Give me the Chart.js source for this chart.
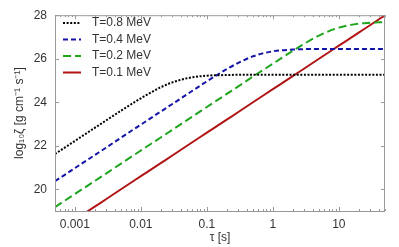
<!DOCTYPE html>
<html>
<head>
<meta charset="utf-8">
<script src="https://cdn.jsdelivr.net/npm/chart.js@4.4.0/dist/chart.umd.min.js"></script>
<style>
  html, body { margin: 0; padding: 0; background: #fff; }
  #wrap { width: 399px; height: 247px; }
</style>
</head>
<body>
<div id="wrap"><canvas id="zetaChart" width="399" height="247"></canvas></div>
<script>
// valores (tau en s, log10 zeta)
const tauValues = [0.0005, 0.001, 0.002, 0.003, 0.005, 0.01, 0.02, 0.03, 0.05, 0.1, 0.2, 0.3, 0.5, 1, 2, 3, 5, 10, 20, 30, 50];
const zetaT08 = [21.62, 22.22, 22.82, 23.17, 23.61, 24.18, 24.69, 24.91, 25.10, 25.22, 25.25, 25.26, 25.26, 25.26, 25.26, 25.26, 25.26, 25.26, 25.26, 25.26, 25.26];
const zetaT04 = [20.37, 20.97, 21.57, 21.92, 22.37, 22.97, 23.57, 23.92, 24.36, 24.96, 25.52, 25.81, 26.11, 26.34, 26.42, 26.44, 26.45, 26.45, 26.45, 26.45, 26.45];
const zetaT02 = [19.18, 19.78, 20.38, 20.73, 21.18, 21.78, 22.38, 22.73, 23.18, 23.78, 24.38, 24.73, 25.18, 25.77, 26.36, 26.69, 27.06, 27.43, 27.61, 27.65, 27.68];
const zetaT01 = [18.0, 18.6, 19.2, 19.55, 20.0, 20.6, 21.2, 21.55, 22.0, 22.6, 23.2, 23.55, 24.0, 24.6, 25.2, 25.55, 26.0, 26.6, 27.2, 27.55, 28.0];
const seriesLabels = ['T=0.8 MeV', 'T=0.4 MeV', 'T=0.2 MeV', 'T=0.1 MeV'];
const xMajorTicks = [0.001, 0.01, 0.1, 1, 10];
const yTicks = [20, 22, 24, 26, 28];

const FONT = "'Liberation Sans', Arial, sans-serif";
const TEXT = '#333';

function toPoints(ys) {
    return tauValues.map((t, i) => ({ x: t, y: ys[i] }));
}

// ticks menores del eje log: 2..9 x 10^n dentro del rango
function logTicks(min, max) {
    const out = [];
    for (let e = -4; e <= 2; e++) {
        for (let m = 1; m <= 9; m++) {
            const v = m * Math.pow(10, e);
            if (v >= min * 0.999 && v <= max * 1.001) out.push({ value: v, major: m === 1 });
        }
    }
    return out;
}

// marco gris + ticks hacia dentro
const framePlugin = {
    id: 'frame',
    afterDatasetsDraw(chart) {
        const { ctx, chartArea: a, scales } = chart;
        ctx.save();
        ctx.strokeStyle = '#999';
        ctx.lineWidth = 1;
        ctx.strokeRect(a.left + 0.5, a.top + 0.5, a.right - a.left - 1, a.bottom - a.top);
        ctx.beginPath();
        scales.x.ticks.forEach(t => {
            const px = Math.round(scales.x.getPixelForValue(t.value)) + 0.5;
            const len = t.major ? 4 : 2;
            ctx.moveTo(px, a.bottom); ctx.lineTo(px, a.bottom - len);
            ctx.moveTo(px, a.top); ctx.lineTo(px, a.top + len);
        });
        scales.y.ticks.forEach(t => {
            const py = Math.round(scales.y.getPixelForValue(t.value)) + 0.5;
            ctx.moveTo(a.left, py); ctx.lineTo(a.left + 4, py);
            ctx.moveTo(a.right, py); ctx.lineTo(a.right - 4, py);
        });
        ctx.stroke();
        ctx.restore();
    }
};

// leyenda dentro del area del grafico
const legendPlugin = {
    id: 'insideLegend',
    afterDraw(chart) {
        const { ctx } = chart;
        ctx.save();
        ctx.font = '12px ' + FONT;
        ctx.textBaseline = 'middle';
        chart.data.datasets.forEach((ds, i) => {
            const y = 23 + i * 16.5;
            ctx.strokeStyle = ds.borderColor;
            ctx.lineWidth = ds.borderWidth;
            ctx.setLineDash(ds.borderDash || []);
            ctx.beginPath();
            ctx.moveTo(63, y); ctx.lineTo(81, y);
            ctx.stroke();
            ctx.setLineDash([]);
            ctx.fillStyle = TEXT;
            ctx.fillText(ds.label, 92, y);
        });
        ctx.restore();
    }
};

function ds(label, data, color, dash) {
    return {
        label: label,
        data: toPoints(data),
        borderColor: color,
        borderWidth: 2,
        borderDash: dash,
        pointRadius: 0,
        fill: false,
        cubicInterpolationMode: 'monotone'
    };
}

new Chart(document.getElementById('zetaChart'), {
    type: 'line',
    data: {
        datasets: [
            ds(seriesLabels[0], zetaT08, '#000000', [2, 1.6]),
            ds(seriesLabels[1], zetaT04, '#1414a8', [5, 3]),
            ds(seriesLabels[2], zetaT02, '#1ea51e', [8, 4]),
            ds(seriesLabels[3], zetaT01, '#b01414', [])
        ]
    },
    options: {
        responsive: false,
        animation: false,
        layout: { padding: { left: 0, right: 14, top: 8, bottom: 0 } },
        plugins: { legend: { display: false }, tooltip: { enabled: false } },
        scales: {
            x: {
                type: 'logarithmic',
                min: 0.0005,
                max: 50,
                afterBuildTicks: s => { s.ticks = logTicks(0.0005, 50); },
                afterFit: s => { s.height = 36; },
                grid: { display: false, drawTicks: false },
                border: { display: false },
                ticks: {
                    autoSkip: false,
                    maxRotation: 0,
                    padding: 6,
                    color: TEXT,
                    font: { family: FONT, size: 12 },
                    callback: v => xMajorTicks.includes(v) ? String(v) : ''
                },
                title: { display: true, text: 'τ [s]', color: TEXT, padding: { top: 0, bottom: 2 }, font: { family: FONT, size: 12 } }
            },
            y: {
                min: 19,
                max: 28,
                afterBuildTicks: s => { s.ticks = yTicks.map(v => ({ value: v })); },
                afterFit: s => { s.width = 55; },
                grid: { display: false, drawTicks: false },
                border: { display: false },
                ticks: { padding: 8, color: TEXT, font: { family: FONT, size: 12 } },
                title: { display: true, text: 'log₁₀ζ [g cm⁻¹ s⁻¹]', color: TEXT, padding: { top: 12, bottom: 0 }, font: { family: FONT, size: 12 } }
            }
        }
    },
    plugins: [framePlugin, legendPlugin]
});
</script>
</body>
</html>
